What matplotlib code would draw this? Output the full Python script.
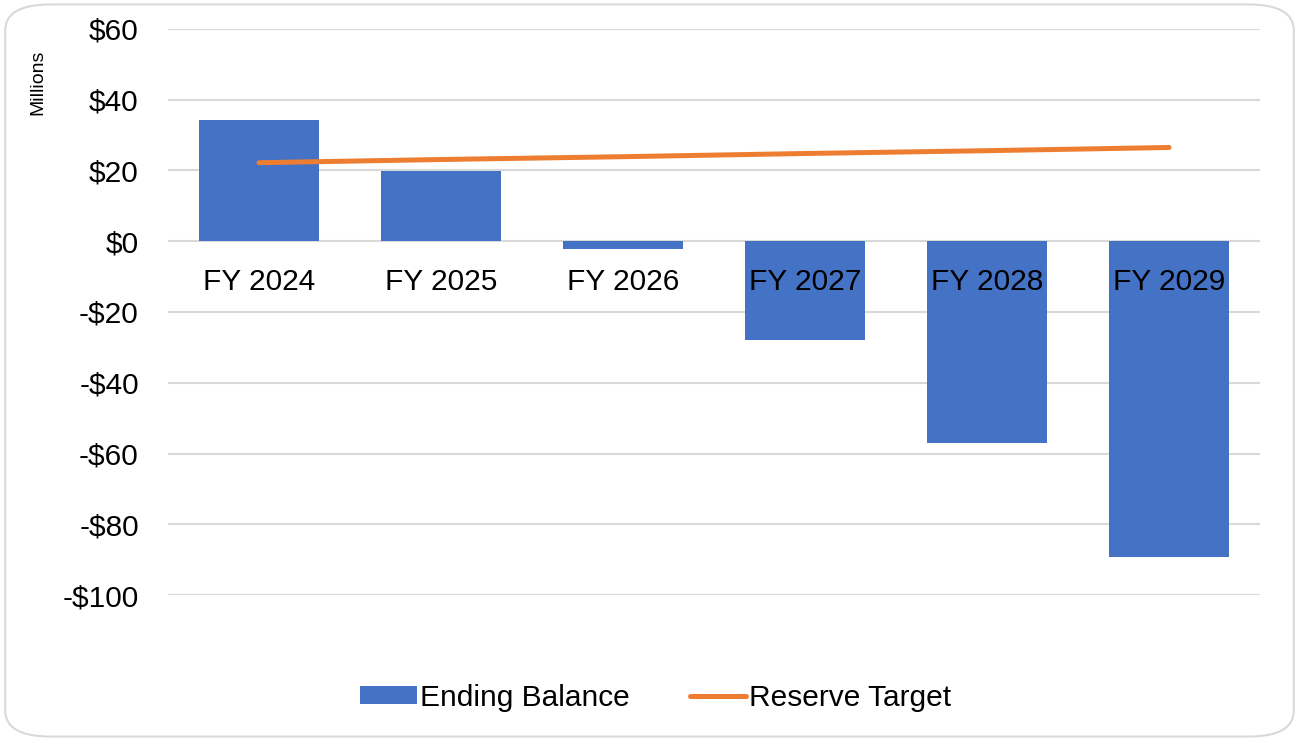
import matplotlib.pyplot as plt
from matplotlib.patches import FancyBboxPatch

# data (millions)
years = ['FY 2024', 'FY 2025', 'FY 2026', 'FY 2027', 'FY 2028', 'FY 2029']
ending_balance = [34.3, 19.9, -2.3, -28.0, -57.1, -89.3]
reserve_target = [22.2, 23.1, 23.9, 24.8, 25.6, 26.5]
yticks = [60, 40, 20, 0, -20, -40, -60, -80, -100]
ytick_labels = ['$60', '$40', '$20', '$0', '-$20', '-$40', '-$60', '-$80', '-$100']

plt.rcParams['font.family'] = ['Liberation Sans', 'DejaVu Sans']
fs = 21.5

fig = plt.figure(figsize=(12.99, 7.41), dpi=100)
fig.patch.set_facecolor('white')

# rounded border around the chart
border = FancyBboxPatch((0.004, 0.006), 0.992, 0.988,
                        boxstyle='round,pad=0,rounding_size=0.035',
                        transform=fig.transFigure, facecolor='white',
                        edgecolor='#d9d9d9', linewidth=1.5, zorder=-10)
fig.patches.append(border)

ax = fig.add_axes([0.1293, 0.197, 0.8407, 0.7639])
ax.set_facecolor('none')

x = list(range(len(years)))
bars = ax.bar(x, ending_balance, width=0.66, color='#4472C4',
              label='Ending Balance', zorder=2)
line, = ax.plot(x, reserve_target, color='#ED7D31', linewidth=3.6,
                solid_capstyle='round', label='Reserve Target', zorder=3)

ax.set_xlim(-0.5, len(years) - 0.5)
ax.set_ylim(-100, 60)
ax.set_yticks(yticks)
ax.set_yticklabels(ytick_labels, fontsize=fs)
ax.tick_params(axis='y', length=0, pad=21)
ax.set_xticks([])
ax.grid(axis='y', color='#d9d9d9', linewidth=1.5, zorder=0)
for s in ax.spines.values():
    s.set_visible(False)

# category labels just under the zero line
for i, name in enumerate(years):
    ax.annotate(name, (i, 0), xytext=(0, -29), textcoords='offset points',
                ha='center', va='center', fontsize=fs, zorder=4)

fig.text(0.029, 0.889, 'Millions', rotation=90, fontsize=14,
         ha='center', va='center')

fig.legend(handles=[bars, line], loc='center', bbox_to_anchor=(0.505, 0.058),
           ncol=2, frameon=False, fontsize=fs, handlelength=1.9,
           handleheight=0.55, handletextpad=0.1, columnspacing=2.0)

fig.savefig('out.png', dpi=100)
